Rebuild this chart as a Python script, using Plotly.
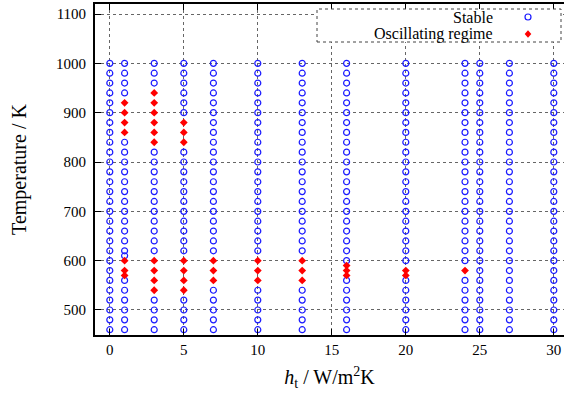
import plotly.graph_objects as go

# Heat-transfer coefficients h_t (W/m^2K) that were simulated
h_values = [0, 1, 3, 5, 7, 10, 13, 16, 20, 24, 25, 27, 30]

# Initial temperatures (K) tried for every h_t
temp_grid = [460, 480, 500, 520, 540, 560, 580, 600, 620, 640, 660, 680, 700, 720,
             740, 760, 780, 800, 820, 840, 860, 880, 900, 920, 940, 960, 980, 1000]

# Additional stable runs off the regular grid
extra_stable_h = [1]
extra_stable_T = [610]

# Runs that ended in an oscillating regime
osc_h = [1, 1, 1, 1, 1, 1, 1,
         3, 3, 3, 3, 3, 3, 3, 3, 3, 3,
         5, 5, 5, 5, 5, 5, 5,
         7, 7, 7,
         10, 10, 10,
         13, 13, 13,
         16, 16, 16,
         20, 20,
         24]
osc_T = [920, 900, 880, 860, 600, 580, 570,
         940, 920, 900, 880, 860, 840, 600, 580, 560, 540,
         880, 860, 840, 600, 580, 560, 540,
         600, 580, 560,
         600, 580, 560,
         600, 580, 560,
         590, 580, 570,
         580, 570,
         580]

x_ticks = [0, 5, 10, 15, 20, 25, 30]
y_ticks = [500, 600, 700, 800, 900, 1000, 1100]

osc_set = set(zip(osc_h, osc_T))
stable_h, stable_T = [], []
for h in h_values:
    for t in temp_grid:
        if (h, t) not in osc_set:
            stable_h.append(h)
            stable_T.append(t)
stable_h += extra_stable_h
stable_T += extra_stable_T

BLUE = "#1a1aff"
RED = "#ff0000"
FONT = "Liberation Serif, Times New Roman, serif"

W, H = 564, 394
L, R, T, B = 95, 0, 4, 59
pw, ph = W - L - R, H - T - B


def px(x):
    return (x - L) / pw


def py(y):
    return (H - B - y) / ph


fig = go.Figure()
fig.add_trace(go.Scatter(
    x=stable_h, y=stable_T, mode="markers", name="Stable",
    marker=dict(symbol="circle-open", size=6, color=BLUE, line=dict(width=1.2, color=BLUE)),
))
fig.add_trace(go.Scatter(
    x=osc_h, y=osc_T, mode="markers", name="Oscillating regime",
    marker=dict(symbol="diamond", size=6, color=RED, line=dict(width=0)),
))

axis_common = dict(
    showline=True, linecolor="black", linewidth=1.8,
    ticks="inside", ticklen=6, tickwidth=1.3, tickcolor="black",
    showgrid=True, gridcolor="#666666", gridwidth=1, griddash="dot",
    zeroline=False,
    tickfont=dict(family=FONT, size=15, color="black"),
)

fig.update_xaxes(
    **axis_common,
    range=[-1, -1 + pw / 14.8],
    tickvals=x_ticks, mirror="ticks",
    title=dict(text="<i>h</i><sub>t</sub> / W/m<sup>2</sup>K",
               font=dict(family=FONT, size=20, color="black"), standoff=13),
)
fig.update_yaxes(
    **axis_common,
    range=[449.3, 1120.3],
    tickvals=y_ticks, mirror=False, ticklabelstandoff=4,
    title=dict(text="Temperature / K",
               font=dict(family=FONT, size=20, color="black"), standoff=24),
)

# Key box in the upper right, text right-justified with its symbol after it
shapes = [
    dict(type="rect", xref="paper", yref="paper", layer="above",
         x0=px(317), x1=px(561), y0=py(42), y1=py(9),
         line=dict(color="#444444", width=1, dash="dot"), fillcolor="white"),
    dict(type="circle", xref="paper", yref="paper", layer="above",
         xsizemode="pixel", ysizemode="pixel", xanchor=px(528), yanchor=py(17),
         x0=-3, x1=3, y0=-3, y1=3, line=dict(color=BLUE, width=1.2)),
    dict(type="path", xref="paper", yref="paper", layer="above",
         xsizemode="pixel", ysizemode="pixel", xanchor=px(528), yanchor=py(34),
         path="M 0 3.8 L 3.3 0 L 0 -3.8 L -3.3 0 Z",
         line=dict(width=0), fillcolor=RED),
]
annotations = [
    dict(text="Stable", xref="paper", yref="paper", x=px(495), y=py(17),
         xanchor="right", yanchor="middle", showarrow=False,
         font=dict(family=FONT, size=16, color="black")),
    dict(text="Oscillating regime", xref="paper", yref="paper", x=px(495), y=py(34),
         xanchor="right", yanchor="middle", showarrow=False,
         font=dict(family=FONT, size=16, color="black")),
]

fig.update_layout(
    width=W, height=H,
    margin=dict(l=L, r=R, t=T, b=B),
    paper_bgcolor="white", plot_bgcolor="white",
    showlegend=False,
    shapes=shapes, annotations=annotations,
)

fig.write_html("out.html")
